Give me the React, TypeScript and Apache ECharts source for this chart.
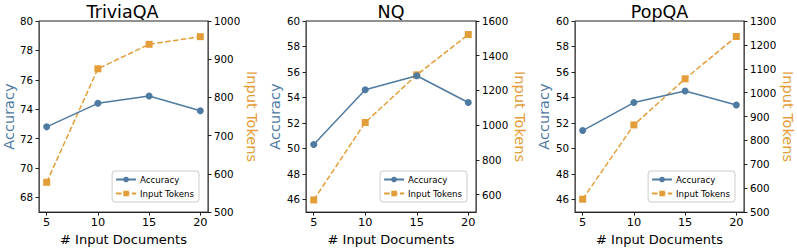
import React, { useEffect, useRef } from "react";
import * as echarts from "echarts";

const docs = [5, 10, 15, 20];
const titles = ["TriviaQA", "NQ", "PopQA"];
const accTrivia = [72.8, 74.4, 74.9, 73.9];
const tokTrivia = [578, 875, 939, 959];
const accNQ = [50.3, 54.6, 55.7, 53.6];
const tokNQ = [570, 1016, 1290, 1522];
const accPop = [51.4, 53.6, 54.5, 53.4];
const tokPop = [554, 865, 1058, 1235];

const accTicks = [
  [68, 70, 72, 74, 76, 78, 80],
  [46, 48, 50, 52, 54, 56, 58, 60],
  [46, 48, 50, 52, 54, 56, 58, 60],
];
const tokTicks = [
  [500, 600, 700, 800, 900, 1000],
  [600, 800, 1000, 1200, 1400, 1600],
  [500, 600, 700, 800, 900, 1000, 1100, 1200, 1300],
];
const accRange = [[67, 80], [45, 60], [45, 60]];
const tokRange = [[500, 1000], [500, 1600], [500, 1300]];
const accData = [accTrivia, accNQ, accPop];
const tokData = [tokTrivia, tokNQ, tokPop];

const BLUE = "#4F7AA1";
const ORANGE = "#E39E3A";
const FONT = "DejaVu Sans";

const gridLefts = [37, 306, 575];
const gridWidths = [171, 170, 169];
const GRID_TOP = 21;
const GRID_H = 194;

const plain = (v: number) => String(v);

export default function App() {
  const ref = useRef<HTMLDivElement>(null);
  useEffect(() => {
    document.body.style.margin = "0";
    const chart = echarts.init(ref.current!, null, { renderer: "svg" });
    const grids: any[] = [];
    const xAxes: any[] = [];
    const yAxes: any[] = [];
    const series: any[] = [];
    const legends: any[] = [];
    const graphics: any[] = [];
    for (let i = 0; i < 3; i++) {
      grids.push({
        left: gridLefts[i],
        top: GRID_TOP,
        width: gridWidths[i],
        height: GRID_H,
        show: true,
        borderColor: "#222",
        borderWidth: 1,
        backgroundColor: "transparent",
      });
      xAxes.push({
        type: "value",
        gridIndex: i,
        min: 4.25,
        max: 20.75,
        splitLine: { show: false },
        axisLine: { show: true, lineStyle: { color: "#222", width: 1 } },
        axisTick: { show: true, length: 3.5, customValues: docs, lineStyle: { color: "#222" } },
        axisLabel: { customValues: docs, formatter: plain, color: "#000", fontSize: 11.3, fontFamily: FONT, margin: 5 },
        name: "# Input Documents",
        nameLocation: "middle",
        nameGap: 19,
        nameTextStyle: { color: "#000", fontSize: 13, fontFamily: FONT },
      });
      yAxes.push({
        type: "value",
        gridIndex: i,
        position: "left",
        min: accRange[i][0],
        max: accRange[i][1],
        splitLine: { show: false },
        axisLine: { show: true, lineStyle: { color: "#555", width: 1 } },
        axisTick: { show: true, length: 3.5, customValues: accTicks[i], lineStyle: { color: "#222" } },
        axisLabel: { customValues: accTicks[i], formatter: plain, color: "#000", fontSize: 10.3, fontFamily: FONT, margin: 6 },
        name: "Accuracy",
        nameLocation: "middle",
        nameRotate: 90,
        nameGap: 17,
        nameTextStyle: { color: BLUE, fontSize: 14.5, fontFamily: FONT },
      });
      yAxes.push({
        type: "value",
        gridIndex: i,
        position: "right",
        min: tokRange[i][0],
        max: tokRange[i][1],
        splitLine: { show: false },
        axisLine: { show: true, lineStyle: { color: "#555", width: 1 } },
        axisTick: { show: true, length: 3.5, customValues: tokTicks[i], lineStyle: { color: "#222" } },
        axisLabel: { customValues: tokTicks[i], formatter: plain, color: "#000", fontSize: 10.3, fontFamily: FONT, margin: 6 },
        name: "Input Tokens",
        nameLocation: "middle",
        nameRotate: -90,
        nameGap: 28,
        nameTextStyle: { color: ORANGE, fontSize: 14.5, fontFamily: FONT },
      });
      series.push({
        type: "line",
        name: "Accuracy",
        xAxisIndex: i,
        yAxisIndex: 2 * i,
        data: docs.map((d, k) => [d, accData[i][k]]),
        symbol: "circle",
        symbolSize: 7,
        lineStyle: { color: BLUE, width: 1.5 },
        itemStyle: { color: BLUE },
        z: 3,
      });
      series.push({
        type: "line",
        name: "Input Tokens",
        xAxisIndex: i,
        yAxisIndex: 2 * i + 1,
        data: docs.map((d, k) => [d, tokData[i][k]]),
        symbol: "rect",
        symbolSize: 7,
        lineStyle: { color: ORANGE, width: 1.5, type: [5.5, 2.4] },
        itemStyle: { color: ORANGE },
        z: 2,
      });
      legends.push({
        data: ["Accuracy", "Input Tokens"],
        orient: "vertical",
        right: 797 - (gridLefts[i] + gridWidths[i]) + 9,
        top: 171,
        padding: [4, 5, 4, 3],
        itemWidth: 20,
        itemHeight: 7,
        itemGap: 5,
        borderColor: "#ccc",
        borderWidth: 1,
        borderRadius: 3,
        backgroundColor: "rgba(255,255,255,0.8)",
        textStyle: { fontSize: 8.6, fontFamily: FONT, color: "#000", padding: [0, 0, 0, -1] },
        selectedMode: false,
      });
      graphics.push({
        type: "text",
        x: gridLefts[i] + gridWidths[i] / 2,
        y: 12,
        style: {
          text: titles[i],
          fontSize: 17.5,
          fontFamily: FONT,
          fill: "#000",
          textAlign: "center",
          textVerticalAlign: "middle",
        },
      });
    }
    chart.setOption({
      animation: false,
      backgroundColor: "#fff",
      grid: grids,
      xAxis: xAxes,
      yAxis: yAxes,
      series,
      legend: legends,
      graphic: graphics,
    });
    return () => chart.dispose();
  }, []);
  return <div ref={ref} style={{ width: 797, height: 251, position: "absolute", left: 0, top: 0 }} />;
}
